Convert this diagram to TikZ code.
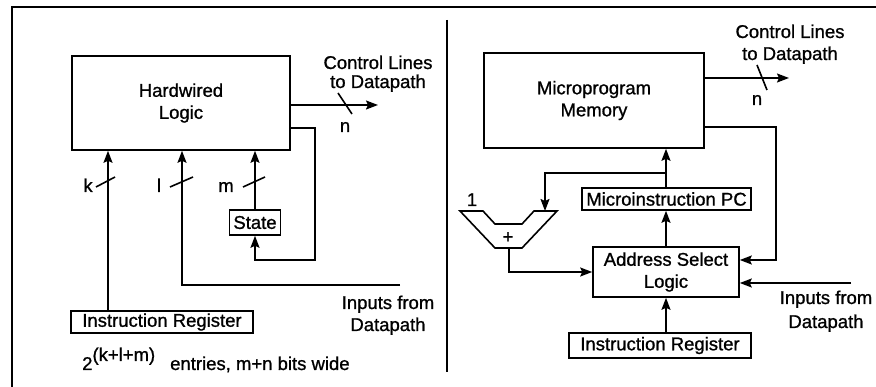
\documentclass[tikz,border=0pt]{standalone}
\usepackage{fontspec}
\setmainfont[FakeBold=1]{Liberation Sans}
\usetikzlibrary{arrows.meta}
\begin{document}
\begin{tikzpicture}[x=1pt,y=-1pt,
  every node/.style={font=\fontsize{18.5}{22}\selectfont},
  blk/.style={draw,line width=1.6pt,inner sep=0pt,align=center},
  arr/.style={line width=1.6pt,-{Stealth[length=12pt,width=9pt,inset=2pt]}},
  wire/.style={line width=1.6pt},
  frame/.style={line width=1.9pt},
  lbl/.style={inner sep=0pt,anchor=base}]
\useasboundingbox (0,0) rectangle (876,387);
\fill[white] (0,0) rectangle (876,387);
% frame
\draw[frame] (12,387) -- (12,7) -- (876,7);
\draw[frame] (447,20) -- (447,372);

% ---------- left: hardwired ----------
\node[blk,minimum width=218pt,minimum height=94pt] (hw) at (181,103) {Hardwired\\Logic};
\node[blk,minimum width=51pt,minimum height=25pt] (state) at (255,222.5) {State};
\node[blk,minimum width=182pt,minimum height=22pt] (irL) at (162,322) {Instruction Register};

\coordinate (outL) at (378,105);
\coordinate (fbtopL) at (315,128);
\coordinate (fbL) at (315,260);
\coordinate (kx) at (108,200);
\coordinate (lx) at (182,200);
\coordinate (inL) at (400,285);

\draw[arr] (hw.east |- outL) -- (outL);
\draw[wire] (338,93) -- (352,114);
\node[lbl] (nL) at (345,132) {n};
\node[lbl] (cl1L) at (378,69) {Control Lines};
\node[lbl] (cl2L) at (378,88) {to Datapath};

\draw[arr] (hw.east |- fbtopL) -| (fbL) -| (state.south);
\draw[arr] (irL.north -| kx) -- (hw.south -| kx);
\draw[arr] (inL) -| (hw.south -| lx);
\draw[arr] (state.north) -- (hw.south -| state.north);

\draw[wire] (96,187) -- (115,177);
\draw[wire] (170,187) -- (193,177);
\draw[wire] (243,187) -- (265,177);
\node[lbl] (kL) at (88,192) {k};
\node[lbl] (lL) at (159,192) {l};
\node[lbl] (mL) at (226,192) {m};

\node[lbl] (in1L) at (388,309) {Inputs from};
\node[lbl] (in2L) at (388,331) {Datapath};

\node[lbl,anchor=base west] (pow) at (82,370) {2\raisebox{9pt}{(k+l+m)}};
\node[lbl,anchor=base west] (ent) at (170,370) {entries, m+n bits wide};

% ---------- right: microprogrammed ----------
\node[blk,minimum width=220pt,minimum height=95pt] (mpm) at (594,100.5) {Microprogram\\Memory};
\node[blk,minimum width=169pt,minimum height=22pt] (mpc) at (666.5,199) {Microinstruction PC};
\node[blk,minimum width=146pt,minimum height=50pt] (asl) at (666,272) {Address Select\\Logic};
\node[blk,minimum width=182pt,minimum height=25pt] (irR) at (660,345.5) {Instruction Register};

\coordinate (outR) at (789,78);
\coordinate (fbtopR) at (776,127);
\coordinate (fbR) at (776,260);
\coordinate (inR) at (851,283);
\coordinate (br) at (666,173);
\coordinate (addin) at (545,211);
\coordinate (addout) at (509,248);

\draw[arr] (mpm.east |- outR) -- (outR);
\draw[wire] (757,65) -- (767,90);
\node[lbl] (nR) at (757,105) {n};
\node[lbl] (cl1R) at (790,38) {Control Lines};
\node[lbl] (cl2R) at (790,60) {to Datapath};

\draw[arr] (mpm.east |- fbtopR) -| (fbR) -- (asl.east |- fbR);
\draw[arr] (inR) -- (asl.east |- inR);
\node[lbl] (in1R) at (826,304) {Inputs from};
\node[lbl] (in2R) at (826,328) {Datapath};

\draw[arr] (irR.north -| asl.south) -- (asl.south);
\draw[arr] (asl.north) -- (mpc.south -| asl.north);
\draw[arr] (mpc.north -| asl.north) -- (mpm.south -| asl.north);
\draw[arr] (br) -| (addin);

% adder
\draw[line width=1.6pt,line join=miter] (460,211) -- (483,211) -- (495,224) -- (522,224) -- (534,211) -- (557,211) -- (522,248) -- (495,248) -- cycle;
\node[lbl] (plus) at (508,243) {+};
\node[lbl] (one) at (472,206) {1};
\draw[arr] (addout) |- (asl.west);
\end{tikzpicture}
\end{document}
